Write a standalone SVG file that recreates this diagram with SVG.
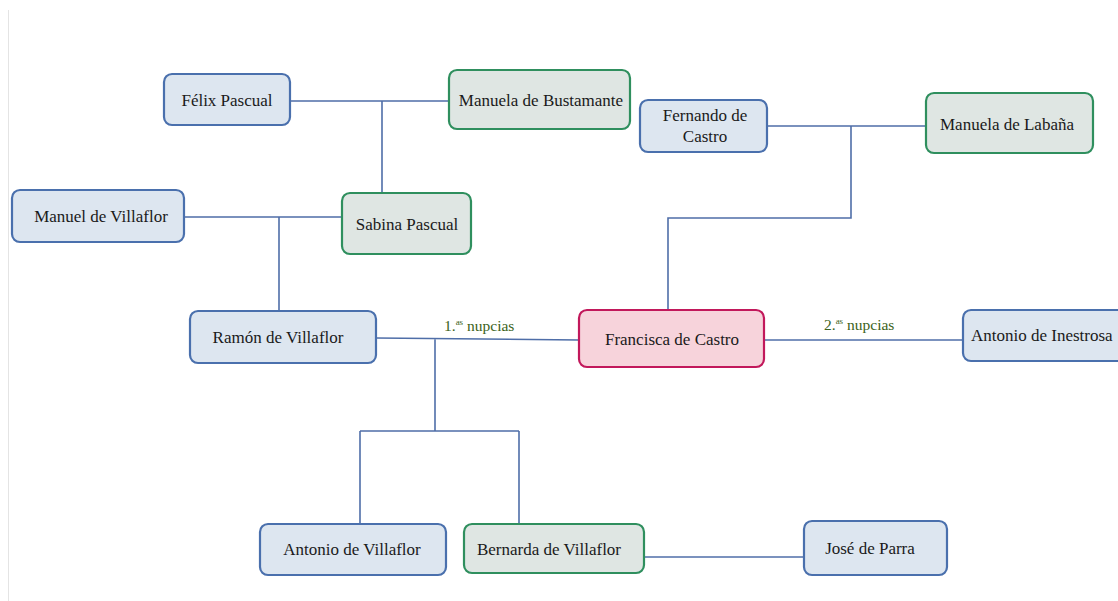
<svg xmlns="http://www.w3.org/2000/svg" width="1118" height="601" viewBox="0 0 1118 601">
<style>
.n rect{stroke-width:2.2}
.b rect{fill:#dde6f0;stroke:#4a70ad}
.g rect{fill:#dfe6e3;stroke:#2f8f5e}
.p rect{fill:#f7d3db;stroke:#c2185b}
text{font-size:17px;fill:#1a1a1a;text-anchor:middle}
.lbl{font-size:15.5px;fill:#3b6220;text-anchor:start}
.c path{fill:none;stroke:#4f6ea8;stroke-width:1.6}
</style>
<rect width="1118" height="601" fill="#ffffff"/>
<line x1="8.5" y1="10" x2="8.5" y2="601" stroke="#e4e4e4" stroke-width="1"/>
<g class="c" id="connectors">
<path d="M290 101H449M382 101V193"/>
<path d="M184 217H342M279 217V311"/>
<path d="M767 126H926M851 126V218H668V310"/>
<path d="M376 338L579 340M435 338V431M360 431H519M360 431V524M519 431V524"/>
<path d="M764 340H963"/>
<path d="M644 557H806"/>
</g>
<g font-family="Liberation Serif, Times New Roman, DejaVu Serif, serif">
<g id="felix" class="n b"><rect x="164" y="74" width="126" height="51" rx="8"/><text x="227" y="106">Félix Pascual</text></g>
<g id="manuela-bustamante" class="n g"><rect x="449" y="70" width="181" height="59" rx="8"/><text x="541" y="106">Manuela de Bustamante</text></g>
<g id="manuel-villaflor" class="n b"><rect x="12" y="190" width="172" height="52" rx="8"/><text x="101" y="222">Manuel de Villaflor</text></g>
<g id="sabina" class="n g"><rect x="342" y="193" width="129" height="61" rx="8"/><text x="407" y="230">Sabina Pascual</text></g>
<g id="fernando" class="n b"><rect x="640" y="100" width="127" height="52" rx="8"/><text x="705" y="121">Fernando de</text><text x="705" y="142">Castro</text></g>
<g id="manuela-labana" class="n g"><rect x="926" y="93" width="167" height="60" rx="8"/><text x="1007" y="130">Manuela de Labaña</text></g>
<g id="ramon" class="n b"><rect x="190" y="311" width="186" height="52" rx="8"/><text x="278" y="343">Ramón de Villaflor</text></g>
<g id="francisca" class="n p"><rect x="579" y="310" width="185" height="57" rx="8"/><text x="672" y="345">Francisca de Castro</text></g>
<g id="inestrosa" class="n b"><rect x="963" y="310" width="165" height="51" rx="8"/><text x="971" y="341" style="text-anchor:start">Antonio de Inestrosa</text></g>
<g id="antonio-villaflor" class="n b"><rect x="260" y="524" width="186" height="51" rx="8"/><text x="352" y="555">Antonio de Villaflor</text></g>
<g id="bernarda" class="n g"><rect x="464" y="524" width="180" height="49" rx="8"/><text x="549" y="555">Bernarda de Villaflor</text></g>
<g id="jose" class="n b"><rect x="804" y="521" width="143" height="54" rx="8"/><text x="870" y="554">José de Parra</text></g>
<text class="lbl" x="444" y="331">1.<tspan font-size="9" dy="-6">as</tspan><tspan dy="6"> nupcias</tspan></text>
<text class="lbl" x="824" y="330">2.<tspan font-size="9" dy="-6">as</tspan><tspan dy="6"> nupcias</tspan></text>
</g>
</svg>
